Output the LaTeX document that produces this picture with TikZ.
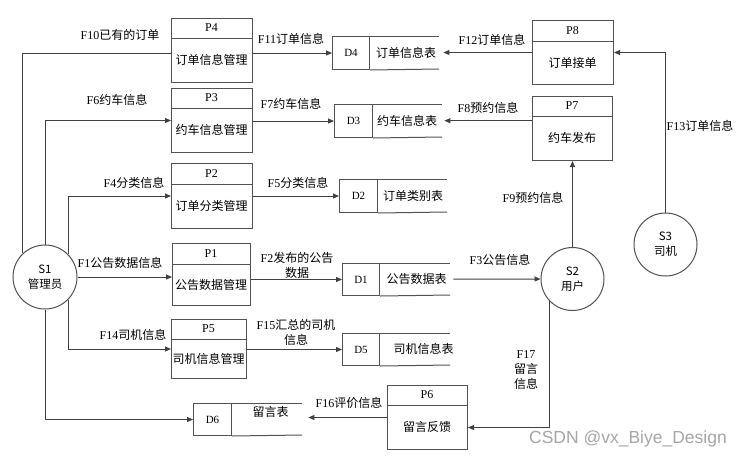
\documentclass[tikz,border=0pt]{standalone}
\usepackage{fontspec}
\setmainfont{Liberation Serif}
\newfontfamily\cjk{Noto Sans CJK SC}
\newfontfamily\wmfont{Liberation Sans}
\usetikzlibrary{arrows.meta,calc}
\tikzset{
  ln/.style={draw=black!68, line width=1pt},
  flow/.style={draw=black!75, line width=1pt, -{Triangle[length=6pt,width=5pt]}},
  plain/.style={draw=black!75, line width=1pt},
  lbl/.style={inner sep=0pt, align=center, font=\fontsize{12}{15}\selectfont},
  ptitle/.style={inner sep=0pt, font=\fontsize{12}{14}\selectfont},
  ptext/.style={inner sep=0pt, font=\fontsize{12}{14}\selectfont\cjk},
  sid/.style={inner sep=0pt, font=\fontsize{11}{13}\selectfont},
  stext/.style={inner sep=0pt, font=\fontsize{12}{14}\selectfont\cjk},
  ent/.style={circle, ln, fill=white, inner sep=0pt, align=center,
    font=\fontsize{11.5}{15}\selectfont\cjk},
}
% process box: name, x1, y1, x2, y2, ydiv, title, text
\newcommand\procbox[8]{%
  \node[ln, rectangle, inner sep=0pt, minimum width={(#4-#2)*1pt},
    minimum height={(#5-#3)*1pt}, anchor=north west] (#1) at (#2,#3) {};
  \draw[ln] (#2,#6) -- (#4,#6);
  \node[ptitle] (#1h) at ({(#2+#4)/2},{(#3+#6)/2}) {#7};
  \node[ptext] (#1b) at ({(#2+#4)/2},{(#6+#5)/2}) {#8};
}
% data store: name, x1, y1, y2, xdiv, xend, id, text, text options
\newcommand\storebox[9]{%
  \node[ln, rectangle, inner sep=0pt, minimum width={(#5-#2)*1pt},
    minimum height={(#4-#3)*1pt}, anchor=north west, sid] (#1) at (#2,#3) {#7};
  \draw[ln] (#1.north east) -- (#6,#3);
  \draw[ln] (#1.south east) -- (#6,#4);
  \node[inner sep=0pt, minimum width={(#6-#5)*1pt}, minimum height={(#4-#3)*1pt},
    anchor=north west] (#1t) at (#5,#3) {};
  \node[stext, #9] (#1l) at (#1t) {#8};
}
\begin{document}
\begin{tikzpicture}[x=1pt,y=-1pt]
\useasboundingbox[fill=white] (0,0) rectangle (745,459);

% processes
\procbox{P4}{171}{18}{252}{82}{38}{P4}{订单信息管理}
\procbox{P3}{171}{88}{252}{152}{108}{P3}{约车信息管理}
\procbox{P2}{171}{163}{252}{228}{184}{P2}{订单分类管理}
\procbox{P1}{172}{243}{250}{305}{264}{P1}{公告数据管理}
\procbox{P5}{171}{319}{246}{378}{339}{P5}{司机信息管理}
\procbox{P6}{387}{385}{467}{449}{405}{P6}{留言反馈}
\procbox{P8}{532}{20}{613}{84}{41}{P8}{订单接单}
\procbox{P7}{532}{96}{612}{160}{116}{P7}{约车发布}

% data stores
\storebox{D4}{332}{36}{69}{369}{439}{D4}{订单信息表}{xshift=2pt}
\storebox{D3}{334}{104}{137}{372}{442}{D3}{约车信息表}{xshift=0pt}
\storebox{D2}{339}{179}{212}{377}{447}{D2}{订单类别表}{xshift=1pt}
\storebox{D1}{342}{263}{295}{379}{450}{D1}{公告数据表}{xshift=2pt}
\storebox{D5}{342}{333}{365}{379}{450}{D5}{司机信息表}{xshift=9pt}
\storebox{D6}{193}{403}{435}{231}{302}{D6}{留言表}{xshift=4pt,yshift=7pt}

% external entities
\node[ent, minimum size=64pt] (S1) at (45,277) {S1\\管理员};
\node[ent, minimum size=63pt] (S2) at (572.5,279) {S2\\用户};
\node[ent, minimum size=63pt] (S3) at (665.5,244.5) {S3\\司机};

% flows from S1
\draw[plain] (S1.133.5) |- ([yshift=-3pt]P4.west);
\draw[flow] (S1.north) |- (P3.west);
\draw[flow] (S1.44) |- (P2.west);
\draw[flow] (S1.east) -- (S1.east -| P1.west);
\draw[flow] (S1.-44) |- (P5.west);
\draw[flow] (S1.south) |- (D6.west);

% processes to stores
\draw[flow] (D4.west -| P4.east) -- (D4.west);
\draw[flow] (D3.west -| P3.east) -- (D3.west);
\draw[flow] (D2.west -| P2.east) -- (D2.west);
\draw[flow] (D1.west -| P1.east) -- (D1.west);
\draw[flow] (D5.west -| P5.east) -- (D5.west);
\draw[flow] (P8.west) -- ($(P8.west -| D4t.east)+(4,0)$);
\draw[flow] (D3t.east -| P7.west) -- ($(D3t.east)+(2,0)$);
\draw[flow] (P6.west) -- ($(P6.west -| D6t.east)+(6,0)$);

% user / driver flows
\draw[flow] ($(D1t.east)+(3,0)$) -- (S2.west);
\draw[flow] (S2.north) -- (P7.south);
\draw[flow] (S3.north) |- (P8.east);
\draw[flow] (S2.-136) |- ([yshift=-10pt]P6.east);

% flow labels
\node[lbl] (l10) at (120,35) {F10{\cjk 已有的订单}};
\node[lbl] (l6) at (117,100) {F6{\cjk 约车信息}};
\node[lbl] (l4) at (134,183) {F4{\cjk 分类信息}};
\node[lbl] (l1) at (120,263) {F1{\cjk 公告数据信息}};
\node[lbl] (l14) at (133,335) {F14{\cjk 司机信息}};
\node[lbl] (l11) at (291,39) {F11{\cjk 订单信息}};
\node[lbl] (l7) at (291,104) {F7{\cjk 约车信息}};
\node[lbl] (l5) at (298,183) {F5{\cjk 分类信息}};
\node[lbl] (l2) at (297,265.5) {F2{\cjk 发布的公告}\\{\cjk 数据}};
\node[lbl] (l15) at (296,332) {F15{\cjk 汇总的司机}\\{\cjk 信息}};
\node[lbl] (l16) at (349,403) {F16{\cjk 评价信息}};
\node[lbl] (l12) at (492,40) {F12{\cjk 订单信息}};
\node[lbl] (l8) at (488,108) {F8{\cjk 预约信息}};
\node[lbl] (l9) at (533,198) {F9{\cjk 预约信息}};
\node[lbl] (l13) at (700,126) {F13{\cjk 订单信息}};
\node[lbl] (l3) at (500,260) {F3{\cjk 公告信息}};
\node[lbl] (l17) at (526,370) {F17\\{\cjk 留言}\\{\cjk 信息}};

% watermark
\node[inner sep=0pt, text=black!35, font=\fontsize{17.5}{20}\selectfont\wmfont] (wm) at (628,439) {CSDN @vx\_Biye\_Design};
\end{tikzpicture}
\end{document}
